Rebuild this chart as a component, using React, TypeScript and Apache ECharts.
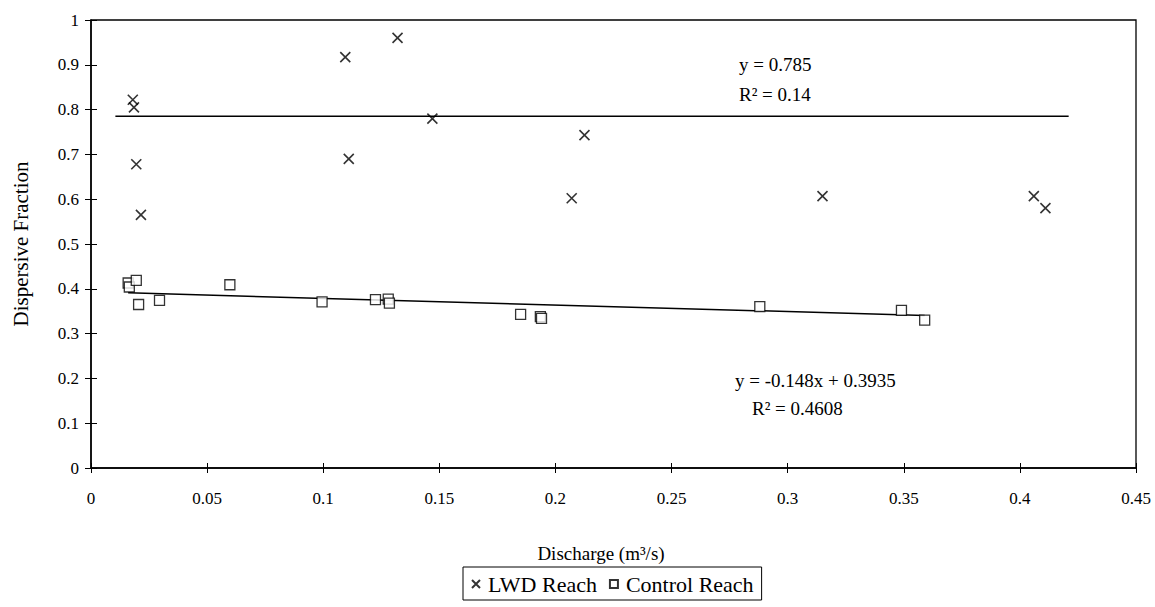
import React, { useEffect, useRef } from "react";
import * as echarts from "echarts";

// LWD Reach (x markers): [discharge m3/s, dispersive fraction]
const lwdReach: [number, number][] = [
  [0.018, 0.822], [0.0185, 0.805], [0.0195, 0.678], [0.0215, 0.565],
  [0.1095, 0.917], [0.132, 0.96], [0.111, 0.69], [0.147, 0.78],
  [0.2125, 0.743], [0.207, 0.602], [0.315, 0.607], [0.406, 0.607], [0.411, 0.58],
];

// Control Reach (square markers)
const controlReach: [number, number][] = [
  [0.016, 0.413], [0.0165, 0.404], [0.0195, 0.419], [0.0205, 0.365],
  [0.0295, 0.374], [0.0598, 0.409], [0.0995, 0.371], [0.1225, 0.376],
  [0.128, 0.377], [0.1285, 0.368], [0.185, 0.343], [0.1935, 0.338],
  [0.194, 0.334], [0.288, 0.36], [0.349, 0.352], [0.359, 0.33],
];

// Trend line end points
const lwdTrend: [number, number][] = [[0.0105, 0.785], [0.421, 0.785]];
const controlTrend: [number, number][] = [[0.016, 0.391], [0.359, 0.3404]];

const xTicks = { min: 0, max: 0.45, interval: 0.05 };
const yTicks = { min: 0, max: 1, interval: 0.1 };

const lwdLabel = ["y = 0.785", "R\u00B2 = 0.14"];
const controlLabel = ["y = -0.148x + 0.3935", "R\u00B2 = 0.4608"];

const FONT = "Liberation Serif";
const crossPath = "path://M0,0L10,10M10,0L0,10";

export default function App() {
  const ref = useRef<HTMLDivElement>(null);
  useEffect(() => {
    if (!ref.current) return;
    const chart = echarts.init(ref.current, null, { renderer: "svg" });
    const fmt = (v: number) => "{t|" + String(Math.round(v * 100) / 100) + "}";
    const tickRich = { t: { fontFamily: FONT, fontSize: 17, color: "#000" } };
    const txt = { fontFamily: FONT, fontSize: 17, color: "#000" };
    const ann = (text: string, left: number, top: number) => ({
      type: "text", left, top,
      style: { text, fontFamily: FONT, fontSize: 19, fill: "#000" },
    });
    chart.setOption({
      animation: false,
      backgroundColor: "#fff",
      textStyle: { fontFamily: FONT },
      grid: {
        left: 91, right: 19, top: 20, bottom: 139,
        show: true, borderColor: "#000", borderWidth: 1.3,
      },
      xAxis: [
        {
          type: "value", ...xTicks,
          name: "Discharge (m\u00B3/s)", nameLocation: "middle", nameGap: 76,
          nameTextStyle: { ...txt, fontSize: 19, padding: [0, 25, 0, 0] },
          axisLine: { onZero: false, lineStyle: { color: "#000", width: 1.5 } },
          axisTick: { length: 5, lineStyle: { color: "#000" } },
          axisLabel: { ...txt, margin: 22, formatter: fmt, rich: tickRich },
          splitLine: { show: false },
        },
        {
          type: "value", ...xTicks, position: "bottom",
          axisLine: { show: false },
          axisTick: { inside: true, length: 5, lineStyle: { color: "#000" } },
          axisLabel: { show: false },
          splitLine: { show: false },
        },
      ],
      yAxis: [
        {
          type: "value", ...yTicks,
          name: "Dispersive Fraction", nameLocation: "middle", nameGap: 60,
          nameTextStyle: { ...txt, fontSize: 21 },
          axisLine: { onZero: false, lineStyle: { color: "#000", width: 1.5 } },
          axisTick: { length: 6, lineStyle: { color: "#000" } },
          axisLabel: { ...txt, margin: 12, formatter: fmt, rich: tickRich },
          splitLine: { show: false },
        },
        {
          type: "value", ...yTicks, position: "left",
          axisLine: { show: false },
          axisTick: { inside: true, length: 6, lineStyle: { color: "#000" } },
          axisLabel: { show: false },
          splitLine: { show: false },
        },
      ],
      legend: {
        data: ["LWD Reach", "Control Reach"],
        bottom: 7, left: 463,
        padding: [6, 8, 5, 8],
        itemGap: 12, itemWidth: 8, itemHeight: 8,
        borderColor: "#000", borderWidth: 1,
        textStyle: { fontFamily: FONT, fontSize: 22, color: "#000", padding: [0, 0, 0, 3] },
      },
      series: [
        {
          name: "LWD Reach", type: "scatter", data: lwdReach,
          symbol: crossPath, symbolSize: 10,
          itemStyle: { color: "transparent", borderColor: "#000", borderWidth: 1.6 },
        },
        {
          name: "Control Reach", type: "scatter", data: controlReach,
          symbol: "rect", symbolSize: 10,
          itemStyle: { color: "#fff", borderColor: "#000", borderWidth: 1.3 },
        },
        {
          name: "LWD trend", type: "line", data: lwdTrend, symbol: "none",
          lineStyle: { color: "#000", width: 1.5 }, z: 1,
        },
        {
          name: "Control trend", type: "line", data: controlTrend, symbol: "none",
          lineStyle: { color: "#000", width: 1.5 }, z: 1,
        },
      ],
      graphic: [
        ann(lwdLabel[0], 739, 55),
        ann(lwdLabel[1], 739, 85),
        ann(controlLabel[0], 735, 371),
        ann(controlLabel[1], 752, 399),
      ],
    });
    return () => chart.dispose();
  }, []);
  return (
    <div
      ref={ref}
      style={{ position: "fixed", left: 0, top: 0, width: 1155, height: 607 }}
    />
  );
}
